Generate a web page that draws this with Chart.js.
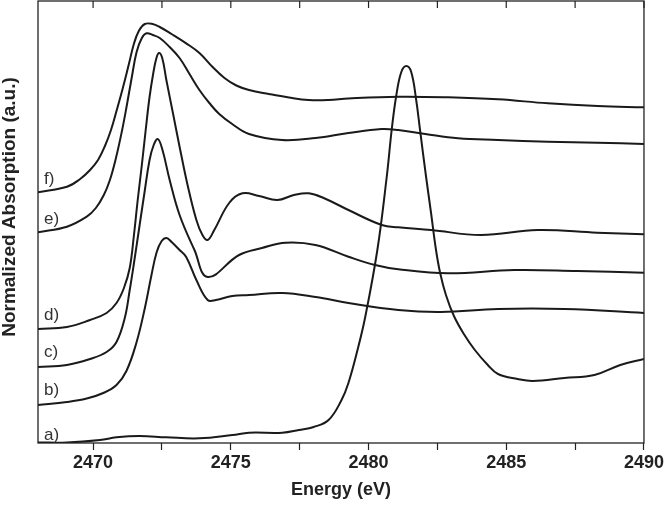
<!DOCTYPE html>
<html>
<head>
<meta charset="utf-8">
<script src="https://cdn.jsdelivr.net/npm/chart.js@4.4.0/dist/chart.umd.min.js"></script>
<style>
  html, body { margin: 0; padding: 0; background: #fff; }
  canvas { display: block; }
</style>
</head>
<body>
<canvas id="xanes" width="666" height="509"></canvas>
<script>
// tick labels shown on the energy axis
const tickValues = [2470, 2475, 2480, 2485, 2490];
const curveNames = ['a)', 'b)', 'c)', 'd)', 'e)', 'f)'];

// spectra (energy in eV, absorption in a.u. with offsets)
const energyA = [2468.00, 2469.05, 2470.25, 2470.85, 2471.69, 2472.66, 2473.86, 2475.06, 2475.66, 2476.87, 2477.47, 2478.01, 2478.55, 2479.02, 2479.27, 2479.60, 2479.88, 2480.32, 2480.66, 2480.84, 2481.01, 2481.19, 2481.37, 2481.55, 2481.73, 2481.87, 2482.09, 2482.27, 2482.45, 2482.60, 2482.81, 2483.10, 2483.46, 2483.86, 2484.33, 2484.70, 2485.41, 2485.96, 2487.11, 2488.20, 2489.14, 2490.00];
const absA = [0.05, 0.05, 0.3, 0.57, 0.7, 0.57, 0.47, 0.8, 1.03, 1.03, 1.3, 1.6, 2.3, 4.3, 6.0, 9.3, 12.6, 19.3, 26.6, 31.3, 34.8, 37.1, 37.7, 37.1, 34.3, 31.3, 26.6, 23.0, 19.3, 17.0, 14.8, 12.7, 10.9, 9.3, 7.8, 6.9, 6.4, 6.2, 6.5, 6.8, 7.8, 8.4];

const energyB = [2468.00, 2469.05, 2469.77, 2470.37, 2470.85, 2471.21, 2471.57, 2471.88, 2472.12, 2472.31, 2472.49, 2472.66, 2472.85, 2473.14, 2473.38, 2473.75, 2474.16, 2474.46, 2475.05, 2475.66, 2476.86, 2478.08, 2479.27, 2481.08, 2482.63, 2484.70, 2487.11, 2490.00];
const absB = [3.8, 4.1, 4.45, 5.0, 5.8, 7.2, 10.0, 13.5, 16.8, 19.1, 20.2, 20.5, 20.1, 19.3, 18.6, 16.3, 14.3, 14.3, 14.7, 14.8, 15.0, 14.6, 14.0, 13.3, 13.1, 13.4, 13.4, 13.0];

const energyC = [2468.00, 2469.05, 2469.89, 2470.49, 2470.85, 2471.15, 2471.33, 2471.49, 2471.69, 2471.88, 2472.05, 2472.20, 2472.35, 2472.52, 2472.78, 2473.14, 2473.68, 2474.16, 2475.30, 2476.13, 2476.99, 2478.07, 2479.27, 2480.24, 2481.08, 2482.89, 2485.29, 2487.58, 2490.00];
const absC = [7.6, 7.8, 8.4, 9.1, 10.1, 12.5, 15.3, 18.1, 21.8, 25.3, 28.3, 29.8, 30.4, 29.3, 26.3, 22.8, 19.3, 16.6, 18.8, 19.5, 20.03, 19.8, 18.63, 17.8, 17.37, 16.97, 17.3, 17.2, 17.03];

const energyD = [2468.00, 2469.05, 2469.89, 2470.49, 2470.85, 2471.12, 2471.33, 2471.48, 2471.62, 2471.77, 2471.91, 2472.05, 2472.18, 2472.29, 2472.39, 2472.51, 2472.66, 2472.90, 2473.14, 2473.43, 2473.75, 2473.97, 2474.16, 2474.40, 2474.94, 2475.42, 2476.03, 2476.69, 2477.29, 2477.83, 2478.37, 2479.27, 2480.48, 2481.08, 2482.27, 2484.08, 2486.14, 2488.30, 2490.00];
const absD = [11.4, 11.6, 12.3, 13.0, 14.0, 15.5, 17.5, 20.7, 24.3, 27.8, 31.3, 34.6, 36.9, 38.4, 39.0, 38.5, 36.3, 32.97, 29.63, 25.8, 22.3, 20.8, 20.3, 21.3, 24.0, 24.97, 24.7, 24.3, 24.8, 24.97, 24.5, 23.3, 21.8, 21.57, 21.3, 20.8, 21.3, 21.03, 20.87];

const energyE = [2468.00, 2469.05, 2469.77, 2470.10, 2470.39, 2470.61, 2470.83, 2471.04, 2471.22, 2471.40, 2471.58, 2471.77, 2471.94, 2472.17, 2472.42, 2472.78, 2473.14, 2473.50, 2473.86, 2474.22, 2474.58, 2475.05, 2475.66, 2476.86, 2478.08, 2479.27, 2480.47, 2481.08, 2482.06, 2483.25, 2484.70, 2486.51, 2488.32, 2490.00];
const absE = [21.07, 21.63, 22.63, 23.5, 24.8, 26.3, 28.5, 31.1, 33.7, 36.5, 39.1, 40.5, 40.97, 40.8, 40.5, 39.6, 38.5, 36.9, 35.3, 34.0, 32.9, 31.9, 30.9, 30.3, 30.5, 31.0, 31.4, 31.3, 30.9, 30.47, 30.3, 30.13, 30.03, 29.9];

const energyF = [2468.00, 2469.05, 2469.53, 2469.89, 2470.18, 2470.43, 2470.65, 2470.86, 2471.08, 2471.30, 2471.48, 2471.66, 2471.88, 2472.16, 2472.42, 2472.85, 2473.38, 2473.86, 2474.34, 2474.77, 2475.20, 2475.66, 2476.38, 2477.11, 2477.83, 2478.55, 2479.27, 2481.08, 2482.89, 2484.70, 2486.51, 2488.32, 2490.00];
const absF = [25.07, 25.63, 26.4, 27.3, 28.3, 29.7, 31.3, 33.3, 35.5, 37.9, 39.9, 41.2, 41.9, 41.9, 41.6, 40.9, 39.97, 39.0, 37.6, 36.5, 35.75, 35.3, 34.9, 34.55, 34.3, 34.3, 34.45, 34.63, 34.57, 34.37, 33.97, 33.7, 33.57];

// how far above the start of each curve its label sits (px)
const labelLift = [3, 10, 10, 9, 8, 8];

const ink = '#222';
const lineColor = '#1a1a1a';
const fontFamily = '"Liberation Sans", Arial, sans-serif';

function toPoints(xs, ys) {
    return xs.map((x, i) => ({ x: x, y: ys[i] }));
}

const series = [
    [energyA, absA], [energyB, absB], [energyC, absC],
    [energyD, absD], [energyE, absE], [energyF, absF],
];

const datasets = series.map((s, i) => ({
    label: curveNames[i],
    data: toPoints(s[0], s[1]),
    borderColor: lineColor,
    borderWidth: 2,
    pointRadius: 0,
    fill: false,
    tension: 0.4,
}));

// frame, inward top ticks, curve labels and the y title
const decorations = {
    id: 'decorations',
    afterDatasetsDraw(chart) {
        const { ctx, chartArea: a, scales: { x, y } } = chart;
        ctx.save();
        ctx.strokeStyle = ink;
        ctx.lineWidth = 1.3;
        ctx.strokeRect(a.left, a.top, a.right - a.left, a.bottom - a.top);

        ctx.lineWidth = 1.2;
        x.ticks.forEach((t) => {
            const px = x.getPixelForValue(t.value);
            ctx.beginPath();
            ctx.moveTo(px, a.top);
            ctx.lineTo(px, a.top + 7);
            ctx.stroke();
        });

        ctx.font = '17px ' + fontFamily;
        ctx.fillStyle = '#333';
        ctx.textAlign = 'left';
        ctx.textBaseline = 'alphabetic';
        chart.data.datasets.forEach((ds, i) => {
            const first = ds.data[0];
            ctx.fillText(ds.label, x.getPixelForValue(first.x) + 6, y.getPixelForValue(first.y) - labelLift[i]);
        });

        ctx.font = 'bold 19px ' + fontFamily;
        ctx.fillStyle = ink;
        ctx.translate(10, (a.top + a.bottom) / 2 - 15);
        ctx.rotate(-Math.PI / 2);
        ctx.textAlign = 'center';
        ctx.textBaseline = 'middle';
        ctx.fillText('Normalized Absorption (a.u.)', 0, 0);
        ctx.restore();
    }
};

new Chart(document.getElementById('xanes'), {
    type: 'line',
    data: { datasets: datasets },
    options: {
        responsive: false,
        animation: false,
        layout: { padding: { top: 1, right: 20, left: 0, bottom: 0 } },
        plugins: {
            legend: { display: false },
            tooltip: { enabled: false },
        },
        scales: {
            x: {
                type: 'linear',
                min: 2468,
                max: 2490,
                afterFit(s) { s.height = 66; },
                border: { display: false },
                grid: {
                    display: true,
                    drawOnChartArea: false,
                    drawTicks: true,
                    tickLength: 7,
                    tickColor: ink,
                    tickWidth: 1.2,
                },
                ticks: {
                    stepSize: 2.5,
                    includeBounds: false,
                    autoSkip: false,
                    maxRotation: 0,
                    padding: 2,
                    color: ink,
                    font: { family: fontFamily, size: 18, weight: 'bold' },
                    callback: (v) => tickValues.includes(v) ? String(v) : '',
                },
                title: {
                    display: true,
                    text: 'Energy (eV)',
                    color: ink,
                    font: { family: fontFamily, size: 18, weight: 'bold' },
                    padding: { top: 0, bottom: 8 },
                },
            },
            y: {
                min: 0,
                max: 44.2,
                afterFit(s) { s.width = 38; },
                ticks: { display: false },
                grid: { display: false },
                border: { display: false },
            },
        },
    },
    plugins: [decorations],
});
</script>
</body>
</html>
